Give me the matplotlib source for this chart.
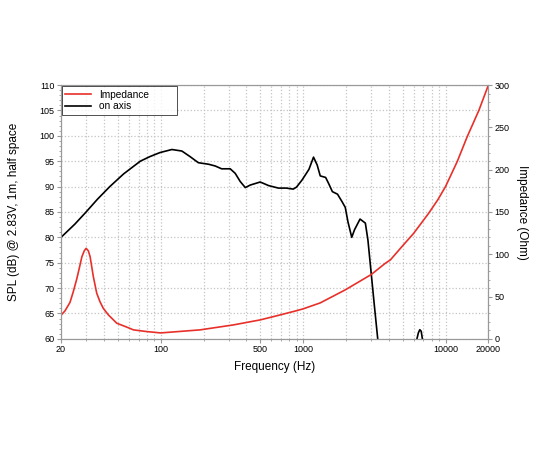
import matplotlib
matplotlib.use('Agg')
import matplotlib.pyplot as plt
from matplotlib.ticker import FixedLocator, NullFormatter, MultipleLocator

plt.rcParams['font.family'] = ['Liberation Sans', 'DejaVu Sans']

# on-axis SPL (dB)
spl_freq = [20, 25, 30, 36, 44, 55, 72, 84, 99, 120, 141, 161, 184, 217, 242, 268,
            308, 334, 362, 393, 426, 500, 572, 671, 765, 853, 900, 984, 1038, 1100,
            1184, 1256, 1320, 1440, 1512, 1606, 1745, 1880, 1978, 2064, 2196, 2298,
            2512, 2737, 2852, 3008, 3170, 3340, 3500, 4000, 5500, 6200, 6300, 6450,
            6600, 6750, 6880, 7000, 7500]
spl_db = [80, 82.6, 85, 87.5, 90, 92.5, 95, 95.9, 96.7, 97.3, 97.0, 95.9, 94.7, 94.4,
          94.05, 93.5, 93.5, 92.6, 91.0, 89.8, 90.3, 90.9, 90.2, 89.7, 89.7, 89.5,
          89.9, 91.3, 92.3, 93.4, 95.8, 94.25, 92.1, 91.8, 90.6, 89.0, 88.5, 87.0,
          85.9, 83.1, 80.0, 81.5, 83.6, 82.8, 79.5, 72.9, 66.4, 60.1, 57, 50, 45, 52,
          60, 61.2, 61.8, 61.5, 60, 58, 50]

# impedance (Ohm)
imp_freq = [20, 21.3, 23.1, 24.4, 25.8, 26.9, 28, 29.1, 30, 31.1, 32, 33.7, 35.6,
            37.5, 39.6, 43, 49.2, 58, 64.5, 79.9, 100, 189, 325, 500, 651, 887, 1003,
            1320, 1978, 3008, 3784, 4100, 5000, 5980, 7620, 8800, 10000, 12080,
            14200, 17140, 20000]
imp_ohm = [28, 33, 43, 56, 71, 84, 97, 104, 107, 104, 97, 73.6, 54, 44, 36,
           28.3, 18.5, 13.8, 10.6, 8.6, 7, 10.6, 16.5, 22.4, 27.2, 33, 35.5, 42.5,
           57.9, 76, 89.4, 93.3, 110, 124.8, 148.5, 164, 180, 209.5, 239, 270, 300]

x_ticks = [20, 100, 500, 1000, 10000, 20000]

fig = plt.figure(figsize=(5.5, 4.5), dpi=100)
ax = fig.add_axes([0.111, 0.247, 0.777, 0.564])
ax2 = ax.twinx()

spine_col = '#999999'
grid_kw = dict(color='#c4c4c4', linestyle=':', linewidth=0.9)

l2, = ax.plot(spl_freq, spl_db, color='black', lw=1.2, label='on axis',
              solid_joinstyle='round')
l1, = ax2.plot(imp_freq, imp_ohm, color='#e8302a', lw=1.2, label='Impedance',
               solid_joinstyle='round')

ax.set_xscale('log')
ax.set_xlim(20, 20000)
ax.set_ylim(60, 110)
ax2.set_ylim(0, 300)

minors = [m * 10 ** e for e in range(1, 5) for m in range(2, 10)]
minors = [v for v in minors if 20 <= v <= 20000 and v not in x_ticks]
ax.xaxis.set_major_locator(FixedLocator(x_ticks))
ax.xaxis.set_minor_locator(FixedLocator(minors))
ax.xaxis.set_minor_formatter(NullFormatter())
ax.set_xticklabels([str(v) for v in x_ticks])

ax.yaxis.set_major_locator(MultipleLocator(5))
ax.yaxis.set_minor_locator(MultipleLocator(1))
ax2.yaxis.set_major_locator(MultipleLocator(50))
ax2.yaxis.set_minor_locator(MultipleLocator(10))

ax.grid(True, which='major', axis='both', **grid_kw)
ax.grid(True, which='minor', axis='x', **grid_kw)
ax.set_axisbelow(True)

for a in (ax, ax2):
    for s in a.spines.values():
        s.set_color(spine_col)
    a.tick_params(which='both', colors=spine_col, labelcolor='black', labelsize=6.5)
    a.tick_params(which='major', length=3, pad=1.5)
    a.tick_params(which='minor', length=1.5)

ax.set_xlabel('Frequency (Hz)', fontsize=8.5, labelpad=5)
ax.set_ylabel('SPL (dB) @ 2.83V, 1m, half space', fontsize=8.5, labelpad=14)
ax2.set_ylabel('Impedance (Ohm)', fontsize=8.5, rotation=270, labelpad=13)

leg = ax2.legend(handles=[l1, l2], loc='upper left',
                 bbox_to_anchor=(0.002, 0.995, 0.269, 0), mode='expand',
                 borderaxespad=0, fontsize=7.3, frameon=True, fancybox=False,
                 handlelength=2.5, handletextpad=0.8, borderpad=0.35,
                 labelspacing=0.15)
leg.get_frame().set_edgecolor('black')
leg.get_frame().set_linewidth(0.6)

fig.savefig('out.png', dpi=100)
